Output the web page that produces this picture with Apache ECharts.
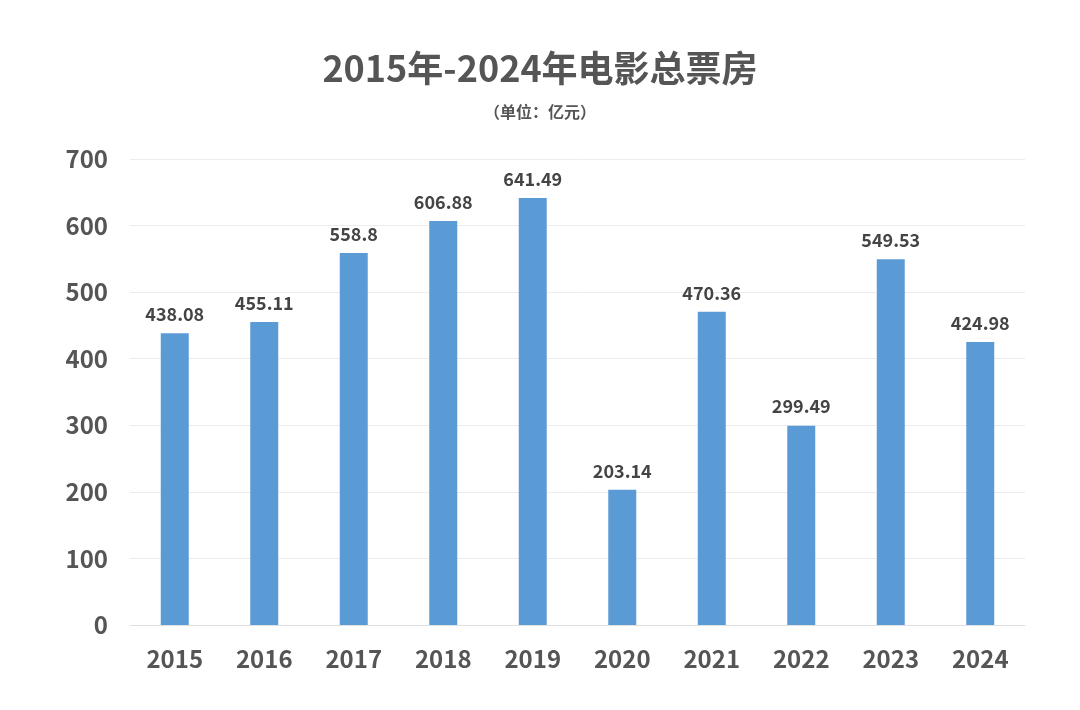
<!DOCTYPE html>
<html>
<head>
<meta charset="utf-8">
<script src="https://cdn.jsdelivr.net/npm/echarts@6/dist/echarts.min.js"></script>
<style>
  body { margin: 0; background: #fff; }
  #chartArea { width: 1080px; height: 710px; }
</style>
</head>
<body>
<div id="chartArea"></div>
<script>
var years = ['2015', '2016', '2017', '2018', '2019', '2020', '2021', '2022', '2023', '2024'];
var boxOffice = [438.08, 455.11, 558.8, 606.88, 641.49, 203.14, 470.36, 299.49, 549.53, 424.98];
var yTicks = [0, 100, 200, 300, 400, 500, 600, 700];

var chartDom = document.getElementById('chartArea');
var myChart = echarts.init(chartDom);
var font = '"Noto Sans CJK SC", "Noto Sans", sans-serif';

var option = {
    backgroundColor: '#fff',
    title: {
        text: '2015年-2024年电影总票房',
        subtext: '（单位：亿元）',
        left: 'center',
        top: 45,
        itemGap: 18,
        textStyle: { fontFamily: font, fontSize: 36, fontWeight: 'bold', color: '#555' },
        subtextStyle: { fontFamily: font, fontSize: 16, fontWeight: 'bold', color: '#555' }
    },
    grid: { left: 130, right: 55, top: 159, bottom: 85 },
    xAxis: {
        type: 'category',
        data: years,
        axisTick: { show: false },
        axisLine: { lineStyle: { color: '#e0e0e0' } },
        axisLabel: { fontFamily: font, fontSize: 24, fontWeight: 'bold', color: '#555', margin: 22 }
    },
    yAxis: {
        type: 'value',
        min: yTicks[0],
        max: yTicks[yTicks.length - 1],
        interval: 100,
        axisLabel: { fontFamily: font, fontSize: 24, fontWeight: 'bold', color: '#555', margin: 22 },
        splitLine: { lineStyle: { color: '#ececec' } }
    },
    series: [{
        type: 'bar',
        data: boxOffice,
        barWidth: 28,
        itemStyle: { color: '#5b9bd5' },
        label: {
            show: true,
            position: 'top',
            distance: 10,
            fontFamily: font,
            fontSize: 18,
            fontWeight: 'bold',
            color: '#444'
        }
    }]
};

option && myChart.setOption(option);
</script>
</body>
</html>
